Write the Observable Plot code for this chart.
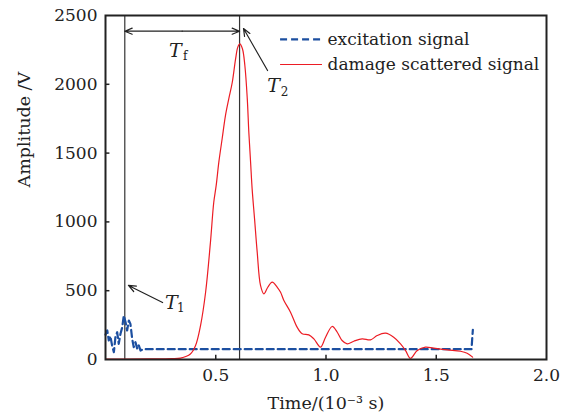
<!DOCTYPE html>
<html>
<head>
<meta charset="utf-8">
<script src="https://cdn.jsdelivr.net/npm/d3@7"></script>
<script src="https://cdn.jsdelivr.net/npm/@observablehq/plot@0.6"></script>
<style>
  html, body { margin: 0; padding: 0; background: #fff; }
</style>
</head>
<body>
<div id="chart"></div>
<script>
// Damage scattered signal (red)
const redTime = [0, 0.1, 0.2, 0.3, 0.34, 0.385, 0.408, 0.431, 0.454, 0.476, 0.491, 0.502, 0.514, 0.529, 0.544, 0.559, 0.575, 0.590, 0.600, 0.609, 0.621, 0.632, 0.643, 0.650, 0.658, 0.665, 0.676, 0.688, 0.703, 0.718, 0.736, 0.756, 0.779, 0.794, 0.809, 0.839, 0.869, 0.892, 0.922, 0.945, 0.975, 0.998, 1.028, 1.051, 1.073, 1.096, 1.126, 1.164, 1.202, 1.232, 1.270, 1.307, 1.338, 1.361, 1.383, 1.414, 1.451, 1.489, 1.550, 1.610, 1.640, 1.665];
const redAmp = [3, 3, 4, 6, 10, 40, 100, 247, 489, 853, 1143, 1265, 1434, 1604, 1773, 1894, 2015, 2185, 2270, 2294, 2258, 2137, 1894, 1652, 1434, 1240, 1022, 780, 538, 477, 525, 562, 525, 489, 429, 344, 235, 187, 179, 150, 90, 162, 240, 198, 138, 114, 133, 150, 143, 174, 191, 162, 114, 65, 9, 65, 90, 82, 70, 60, 46, 17];

// Excitation signal (blue dashed)
const blueTime = [0, 0.008, 0.015, 0.022, 0.030, 0.038, 0.045, 0.053, 0.060, 0.068, 0.076, 0.083, 0.091, 0.098, 0.106, 0.113, 0.121, 0.128, 0.136, 0.144, 0.151, 0.159, 0.17, 1.66, 1.663, 1.666];
const blueAmp = [180, 211, 138, 170, 102, 53, 162, 198, 114, 187, 235, 320, 271, 211, 283, 259, 150, 90, 126, 78, 102, 65, 75, 75, 150, 216];

// Marker times
const markerTimes = [0.0875, 0.608];
const xTicks = [0.5, 1.0, 1.5, 2.0];
const yTicks = [0, 500, 1000, 1500, 2000, 2500];
const seriesNames = ["excitation signal", "damage scattered signal"];

const red = redTime.map((t, i) => ({t, v: redAmp[i]}));
const blue = blueTime.map((t, i) => ({t, v: blueAmp[i]}));

const RED = "#ec1c24";
const BLUE = "#1c4fa0";
const INK = "#222";

const fArrowY = 2386;
const mid = (markerTimes[0] + markerTimes[1]) / 2;

const chart = Plot.plot({
  width: 567,
  height: 419,
  marginLeft: 105,
  marginRight: 21,
  marginTop: 15,
  marginBottom: 60,
  style: {fontFamily: "'DejaVu Serif', serif", fontSize: "17px", color: INK, background: "#fff"},
  x: {domain: [0, 2], ticks: xTicks, tickFormat: d3.format(".1f"), tickSize: 0, tickPadding: 9, label: null},
  y: {domain: [0, 2500], ticks: yTicks, tickFormat: d3.format("d"), tickSize: 0, tickPadding: 8, label: null},
  marks: [
    Plot.ruleX(xTicks.filter(d => d < 2), {x: d => d, y1: 0, y2: 30, stroke: INK, strokeWidth: 1.5}),
    Plot.ruleY(yTicks.filter(d => d > 0 && d < 2500), {y: d => d, x1: 0, x2: 0.02, stroke: INK, strokeWidth: 1.5}),
    Plot.ruleX(markerTimes, {x: d => d, y1: 0, y2: 2500, stroke: "#333", strokeWidth: 1.2}),
    Plot.line(blue, {x: "t", y: "v", stroke: BLUE, strokeWidth: 2.2, strokeDasharray: "7,4", curve: "linear"}),
    Plot.line(red, {x: "t", y: "v", stroke: RED, strokeWidth: 1.2, curve: "catmull-rom"}),
    // double arrow T_f
    Plot.arrow([{x1: mid, x2: markerTimes[0]}, {x1: mid, x2: markerTimes[1]}],
      {x1: "x1", x2: "x2", y1: fArrowY, y2: fArrowY, stroke: INK, strokeWidth: 1.2, headLength: 10, headAngle: 45}),
    // T2 arrow
    Plot.arrow([{x1: 0.735, y1: 2100, x2: 0.626, y2: 2405}],
      {x1: "x1", y1: "y1", x2: "x2", y2: "y2", stroke: INK, strokeWidth: 1.2, headLength: 10, headAngle: 45}),
    // T1 arrow
    Plot.arrow([{x1: 0.259, y1: 414, x2: 0.104, y2: 538}],
      {x1: "x1", y1: "y1", x2: "x2", y2: "y2", stroke: INK, strokeWidth: 1.2, headLength: 10, headAngle: 45}),
    // labels T
    Plot.text([{x: 0.317, y: 2245}, {x: 0.762, y: 1991}, {x: 0.299, y: 414}],
      {x: "x", y: "y", text: d => "T", fontStyle: "italic", fontSize: 19, fill: INK, textAnchor: "middle", lineAnchor: "middle"}),
    Plot.text([{x: 0.361, y: 2202, s: "f"}, {x: 0.812, y: 1944, s: "2"}, {x: 0.342, y: 374, s: "1"}],
      {x: "x", y: "y", text: "s", fontSize: 12, fill: INK, textAnchor: "middle", lineAnchor: "middle"}),
    // legend
    Plot.ruleY([2326], {y: d => d, x1: 0.794, x2: 0.984, stroke: BLUE, strokeWidth: 2.2, strokeDasharray: "7,4"}),
    Plot.ruleY([2144], {y: d => d, x1: 0.794, x2: 0.984, stroke: RED, strokeWidth: 1.2}),
    Plot.text([{y: 2326, s: seriesNames[0]}, {y: 2144, s: seriesNames[1]}],
      {x: 1.007, y: "y", text: "s", fill: INK, fontSize: 17, textAnchor: "start", lineAnchor: "middle"}),
    // axis labels
    Plot.text(["Time/(10⁻³ s)"], {frameAnchor: "bottom", text: d => d, dy: 49, fontSize: 17.5, fill: INK}),
    Plot.text(["Amplitude /V"], {frameAnchor: "left", text: d => d, rotate: -90, dx: -81, fontSize: 17.5, fill: INK}),
    Plot.frame({stroke: INK, strokeWidth: 2})
  ]
});
document.getElementById("chart").appendChild(chart);
</script>
</body>
</html>
